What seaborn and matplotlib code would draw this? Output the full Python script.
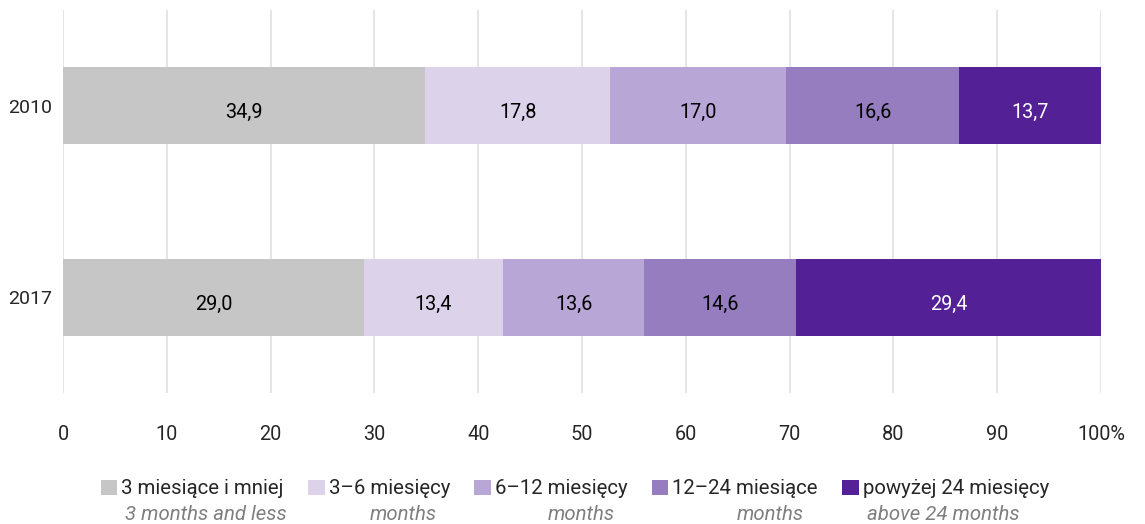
import matplotlib
matplotlib.use('Agg')
import matplotlib.pyplot as plt
import pandas as pd
import seaborn as sns
from matplotlib.patches import Patch

years = ['2010', '2017']
categories = ['3 miesiące i mniej', '3–6 miesięcy', '6–12 miesięcy', '12–24 miesiące', 'powyżej 24 miesięcy']
categories_en = ['3 months and less', 'months', 'months', 'months', 'above 24 months']
share_2010 = [34.9, 17.8, 17.0, 16.6, 13.7]
share_2017 = [29.0, 13.4, 13.6, 14.6, 29.4]

colors = ['#c5c6c5', '#dcd3ea', '#b8a6d6', '#957dc0', '#532195']
label_colors = ['black', 'black', 'black', 'black', 'white']

rows = []
for year, shares in zip(years, [share_2010, share_2017]):
    cum = 0
    for cat, val in zip(categories, shares):
        cum += val
        rows.append({'year': year, 'category': cat, 'value': val, 'cum': cum})
df = pd.DataFrame(rows)

sns.set_style('white')
plt.rcParams['font.family'] = ['Roboto', 'DejaVu Sans']

fig = plt.figure(figsize=(11.45, 5.24), dpi=100)
ax = fig.add_axes([63 / 1145, 1 - 393 / 524, (1101 - 63) / 1145, 383 / 524])

# stacked bars: draw cumulative totals from the longest down
for cat, col in reversed(list(zip(categories, colors))):
    sub = df[df['category'] == cat]
    sns.barplot(data=sub, x='cum', y='year', order=years, color=col, width=0.4,
                saturation=1, errorbar=None, linewidth=0, ax=ax, zorder=2)

for i, cat in enumerate(categories):
    sub = df[df['category'] == cat]
    for _, r in sub.iterrows():
        yi = years.index(r['year'])
        ax.text(r['cum'] - r['value'] / 2, yi + 0.035, f"{r['value']:.1f}".replace('.', ','),
                ha='center', va='center', fontsize=14.3, color=label_colors[i], zorder=3)

ax.set_xlim(0, 100)
ax.set_ylim(1.5, -0.5)
ax.set_xticks(range(0, 101, 10))
ax.set_xticklabels([str(v) for v in range(0, 100, 10)] + ['100%'])
ax.grid(axis='x', color='#dedede', linewidth=1.1)
ax.set_axisbelow(True)
for s in ax.spines.values():
    s.set_visible(False)
ax.tick_params(axis='x', length=0, pad=23, labelsize=14.3)
ax.tick_params(axis='y', length=0, pad=8, labelsize=14)
ax.set_xlabel('')
ax.set_ylabel('')

legend_size = 14.7
handles = [Patch(facecolor=c, edgecolor='none') for c in colors]
leg = fig.legend(handles, categories, loc='center', bbox_to_anchor=(575 / 1145, 1 - 489 / 524),
                 ncol=5, frameon=False, fontsize=legend_size, handlelength=0.8, handleheight=0.8,
                 handletextpad=0.2, columnspacing=1.2, borderaxespad=0)

fig.canvas.draw()
renderer = fig.canvas.get_renderer()
prefixes = ['', '3–6 ', '6–12 ', '12–24 ', '']
W, H = fig.bbox.width, fig.bbox.height
for t, en, pre in zip(leg.get_texts(), categories_en, prefixes):
    bb = t.get_window_extent(renderer)
    shift = 4
    if pre:
        tmp = fig.text(0, 0, pre, fontsize=legend_size)
        shift = tmp.get_window_extent(renderer).width
        tmp.remove()
    fig.text((bb.x0 + shift) / W, (H - 514) / H, en, fontsize=legend_size, style='italic',
             color='#7f7f7f', ha='left', va='center')

fig.savefig('out.png', dpi=100)
